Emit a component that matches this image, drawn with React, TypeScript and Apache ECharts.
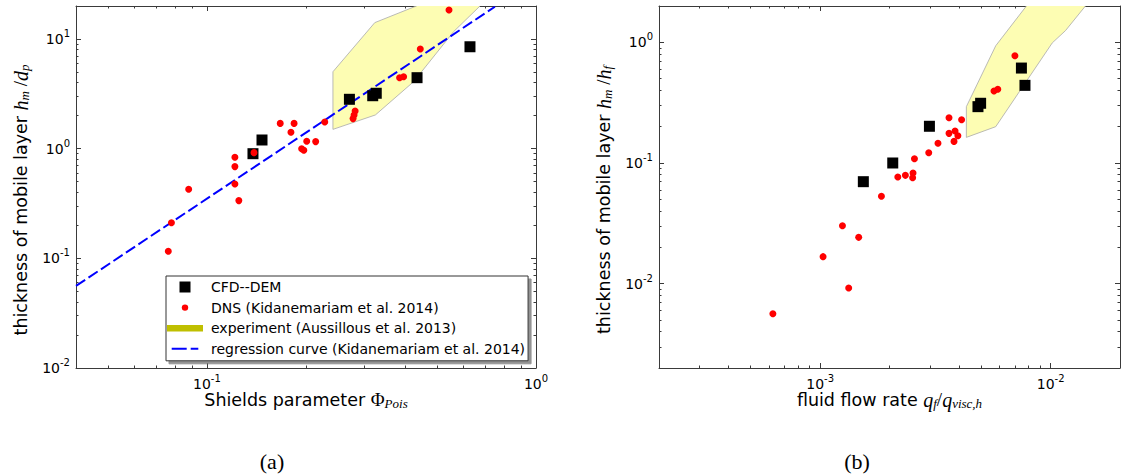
import React, { useEffect, useRef } from "react";
import * as echarts from "echarts";

// ---- Panel (a): mobile layer thickness vs. Shields parameter ----
const cfdShields = [0.138, 0.147, 0.271, 0.319, 0.327, 0.435, 0.63];
const cfdThicknessA = [0.9, 1.2, 2.82, 3.04, 3.2, 4.44, 8.5];

const dnsShields = [
  0.0763, 0.078, 0.088, 0.1216, 0.1216, 0.1216, 0.125, 0.139, 0.167, 0.18, 0.184,
  0.194, 0.197, 0.201, 0.214, 0.228, 0.278, 0.28, 0.282, 0.385, 0.396, 0.445, 0.544,
];
const dnsThicknessA = [
  0.116, 0.2115, 0.427, 0.835, 0.686, 0.477, 0.336, 0.92, 1.7, 1.41, 1.7,
  1.0, 0.967, 1.17, 1.16, 1.75, 1.88, 2.03, 2.2, 4.44, 4.53, 8.1, 18.4,
];

// outline of the experimental band (Aussillous et al. 2013)
const expShields = [0.2415, 0.2415, 0.3236, 0.486, 0.709, 0.5616, 0.4246, 0.325];
const expThicknessA = [1.5, 5.03, 14.1, 23, 23, 11.66, 4.08, 2.03];

// regression curve end points (straight on log-log axes)
const fitShields = [0.04, 0.75];
const fitThickness = [0.056, 19.7];

// ---- Panel (b): mobile layer thickness vs. fluid flow rate ----
const cfdFlow = [0.00154, 0.002066, 0.00298, 0.00484, 0.00497, 0.00747, 0.00774];
const cfdThicknessB = [0.07, 0.1, 0.2015, 0.293, 0.3125, 0.612, 0.44];

const dnsFlow = [
  0.000624, 0.00103, 0.00125, 0.00133, 0.00147, 0.001845, 0.002173, 0.002344, 0.00252,
  0.00253, 0.002566, 0.00296, 0.003246, 0.003624, 0.003624, 0.00381, 0.00385, 0.00396,
  0.00411, 0.00568, 0.0059, 0.007,
];
const dnsThicknessB = [
  0.00564, 0.01674, 0.0302, 0.00921, 0.0242, 0.053, 0.0766, 0.079, 0.0755,
  0.0826, 0.1086, 0.1217, 0.1456, 0.237, 0.176, 0.151, 0.184, 0.168,
  0.2285, 0.395, 0.408, 0.774,
];

const expFlow = [0.00431, 0.00431, 0.00578, 0.00845, 0.0153, 0.0116, 0.01017, 0.00578];
const expThicknessB = [0.163, 0.293, 0.937, 2.4, 2.4, 1.25, 0.99, 0.2];

// ---- axis ranges and labelled decades ----
const rangeShields = [0.04, 1];
const rangeThicknessA = [0.01, 20];
const rangeFlow = [0.0002, 0.02];
const rangeThicknessB = [0.002, 2];

const decadesShields = [0.1, 1];
const decadesThicknessA = [0.01, 0.1, 1, 10];
const decadesFlow = [0.001, 0.01];
const decadesThicknessB = [0.01, 0.1, 1];

const NAME_CFD = "CFD--DEM";
const NAME_DNS = "DNS (Kidanemariam et al. 2014)";
const NAME_EXP = "experiment (Aussillous et al. 2013)";
const NAME_FIT = "regression curve (Kidanemariam et al. 2014)";

const SANS = "DejaVu Sans";
const SERIF = "Liberation Serif";
const FRAME = "#3a3a3a";

const pairs = (xs: number[], ys: number[]) => xs.map((x, i) => [x, ys[i]]);

// minor ticks at 2..9 times each power of ten inside the range
function minorTicks(range: number[]): number[] {
  const out: number[] = [];
  const lo = Math.floor(Math.log10(range[0]));
  const hi = Math.ceil(Math.log10(range[1]));
  for (let e = lo; e < hi; e++) {
    for (let k = 2; k <= 9; k++) {
      const v = parseFloat((k * Math.pow(10, e)).toPrecision(6));
      if (v > range[0] * 1.0001 && v < range[1] * 0.9999) out.push(v);
    }
  }
  return out;
}

const tickRich = {
  b: { fontSize: 14, fontFamily: SANS, color: "#000" },
  s: { fontSize: 10, fontFamily: SANS, color: "#000", padding: [0, 0, 11, 0] },
};
const decadeLabel = (v: number) => `{b|10}{s|${Math.round(Math.log10(v))}}`;

const nameRich = {
  t: { fontSize: 17.5, fontFamily: SANS, color: "#000" },
  m: { fontSize: 20, fontFamily: SERIF, fontStyle: "italic", color: "#000" },
  g: { fontSize: 19, fontFamily: SERIF, color: "#000" },
  u: { fontSize: 19, fontFamily: SERIF, color: "#000" },
  s: { fontSize: 13, fontFamily: SERIF, fontStyle: "italic", color: "#000", padding: [8, 0, 0, 0] },
};

function buildAxes(
  dim: "x" | "y",
  gridIndex: number,
  range: number[],
  decades: number[],
  name: string,
  nameGap: number
) {
  const near = dim === "x" ? "bottom" : "left";
  const far = dim === "x" ? "top" : "right";
  const minors = minorTicks(range);
  const base = {
    type: "log",
    logBase: 10,
    gridIndex,
    min: range[0],
    max: range[1],
    splitLine: { show: false },
    minorTick: { show: false },
    minorSplitLine: { show: false },
  };
  const line = { show: true, onZero: false, lineStyle: { color: FRAME, width: 1 } };
  const majorTick = {
    show: true,
    inside: true,
    length: 5,
    customValues: decades,
    lineStyle: { color: FRAME, width: 1 },
  };
  const minorTick = {
    show: true,
    inside: true,
    length: 2.5,
    customValues: minors,
    lineStyle: { color: FRAME, width: 1 },
  };
  return [
    {
      ...base,
      position: near,
      axisLine: line,
      axisTick: majorTick,
      axisLabel: {
        show: true,
        customValues: decades,
        formatter: decadeLabel,
        rich: tickRich,
        margin: dim === "x" ? 5 : 6,
        hideOverlap: false,
        showMinLabel: true,
        showMaxLabel: true,
      },
      name,
      nameLocation: "middle",
      nameGap,
      nameRotate: dim === "y" ? 90 : 0,
      nameMoveOverlap: false,
      // the vertical titles sit a little below the middle of the frame
      nameTextStyle: { rich: nameRich, padding: dim === "y" ? [0, 26, 0, 0] : 0 },
    },
    { ...base, position: near, axisLine: { show: false, onZero: false }, axisTick: minorTick, axisLabel: { show: false } },
    { ...base, position: far, axisLine: line, axisTick: majorTick, axisLabel: { show: false } },
    { ...base, position: far, axisLine: { show: false, onZero: false }, axisTick: minorTick, axisLabel: { show: false } },
  ];
}

// filled band drawn as one polygon through all vertices of the series
const bandRenderer = (params: any, api: any) => {
  if (params.dataIndexInside !== 0) return null;
  const pts: number[][] = [];
  for (let i = 0; i < params.dataInsideLength; i++) {
    pts.push(api.coord([api.value(0, i), api.value(1, i)]));
  }
  return {
    type: "polygon",
    shape: { points: pts },
    style: { fill: "#fdfdb3", stroke: "#a9a9a9", lineWidth: 0.8 },
  };
};

// legend icons share one 39x14 frame (the leading moveTo's fix the frame)
const FRAME_PATH = "M0,0M39,14";
const ICON_SQUARE = `path://${FRAME_PATH}M12.5,1.5h11v11h-11z`;
const ICON_DOT = `path://${FRAME_PATH}M14.8,7a3.2,3.2 0 1,0 6.4,0a3.2,3.2 0 1,0 -6.4,0z`;
const ICON_BAR = `path://${FRAME_PATH}M0,3.8h36v6.4h-36z`;
const ICON_DASH = `path://${FRAME_PATH}M4.7,6h15v2h-15zM23.7,6h7.6v2h-7.6z`;

const solid = (color: string) => ({ color, opacity: 1, borderWidth: 0 });

export default function App() {
  const ref = useRef<HTMLDivElement>(null);

  useEffect(() => {
    if (!ref.current) return;
    const chart = echarts.init(ref.current, undefined, { renderer: "svg" });

    const option: any = {
      animation: false,
      backgroundColor: "#ffffff",
      textStyle: { fontFamily: SANS, color: "#000" },
      grid: [
        { left: 76, top: 6, width: 460, height: 362, outerBoundsMode: "none", containLabel: false },
        { left: 659, top: 6, width: 461, height: 362, outerBoundsMode: "none", containLabel: false },
      ],
      xAxis: [
        ...buildAxes("x", 0, rangeShields, decadesShields, "{t|Shields parameter }{g|Φ}{s|Pois}", 21),
        ...buildAxes("x", 1, rangeFlow, decadesFlow, "{t|fluid flow rate }{m|q}{s|f}{u|/}{m|q}{s|visc,h}", 21),
      ],
      yAxis: [
        ...buildAxes("y", 0, rangeThicknessA, decadesThicknessA, "{t|thickness of mobile layer }{m|h}{s|m}{u| /}{m|d}{s|p}", 45),
        ...buildAxes("y", 1, rangeThicknessB, decadesThicknessB, "{t|thickness of mobile layer }{m|h}{s|m}{u| /}{m|h}{s|f}", 45),
      ],
      legend: {
        orient: "vertical",
        left: 166,
        top: 276,
        itemWidth: 39,
        itemHeight: 14,
        itemGap: 6.6,
        padding: [4, 3, 5, 1],
        backgroundColor: "#ffffff",
        borderColor: "#333333",
        borderWidth: 1,
        borderRadius: 0,
        shadowColor: "rgba(120,120,120,0.8)",
        shadowBlur: 0,
        shadowOffsetX: 3,
        shadowOffsetY: 3,
        selectedMode: false,
        textStyle: { fontSize: 14, lineHeight: 14, fontFamily: SANS, color: "#000" },
        data: [
          { name: NAME_CFD, icon: ICON_SQUARE, itemStyle: solid("#000000") },
          { name: NAME_DNS, icon: ICON_DOT, itemStyle: solid("#ff0000") },
          { name: NAME_EXP, icon: ICON_BAR, itemStyle: solid("#bfbf00") },
          { name: NAME_FIT, icon: ICON_DASH, itemStyle: solid("#0000ff") },
        ],
      },
      graphic: [
        {
          type: "text",
          x: 272,
          y: 461,
          style: { text: "(a)", fontSize: 22, fontFamily: SERIF, fill: "#000", textAlign: "center", textVerticalAlign: "middle" },
        },
        {
          type: "text",
          x: 857,
          y: 461,
          style: { text: "(b)", fontSize: 22, fontFamily: SERIF, fill: "#000", textAlign: "center", textVerticalAlign: "middle" },
        },
      ],
      series: [
        {
          name: NAME_EXP,
          type: "custom",
          xAxisIndex: 0,
          yAxisIndex: 0,
          clip: true,
          itemStyle: { color: "#bfbf00" },
          encode: { x: 0, y: 1 },
          data: pairs(expShields, expThicknessA),
          renderItem: bandRenderer,
          z: 1,
        },
        {
          name: NAME_FIT,
          type: "line",
          xAxisIndex: 0,
          yAxisIndex: 0,
          symbol: "none",
          clip: true,
          color: "#0000ff",
          lineStyle: { color: "#0000ff", width: 2, type: [11, 4], opacity: 1 },
          data: pairs(fitShields, fitThickness),
          z: 2,
        },
        {
          name: NAME_CFD,
          type: "scatter",
          xAxisIndex: 0,
          yAxisIndex: 0,
          symbol: "rect",
          symbolSize: 11,
          itemStyle: solid("#000000"),
          data: pairs(cfdShields, cfdThicknessA),
          z: 3,
        },
        {
          name: NAME_DNS,
          type: "scatter",
          xAxisIndex: 0,
          yAxisIndex: 0,
          symbol: "circle",
          symbolSize: 7,
          itemStyle: solid("#ff0000"),
          data: pairs(dnsShields, dnsThicknessA),
          z: 4,
        },
        {
          name: NAME_EXP,
          type: "custom",
          xAxisIndex: 4,
          yAxisIndex: 4,
          clip: true,
          itemStyle: { color: "#bfbf00" },
          encode: { x: 0, y: 1 },
          data: pairs(expFlow, expThicknessB),
          renderItem: bandRenderer,
          z: 1,
        },
        {
          name: NAME_CFD,
          type: "scatter",
          xAxisIndex: 4,
          yAxisIndex: 4,
          symbol: "rect",
          symbolSize: 11,
          itemStyle: solid("#000000"),
          data: pairs(cfdFlow, cfdThicknessB),
          z: 3,
        },
        {
          name: NAME_DNS,
          type: "scatter",
          xAxisIndex: 4,
          yAxisIndex: 4,
          symbol: "circle",
          symbolSize: 7,
          itemStyle: solid("#ff0000"),
          data: pairs(dnsFlow, dnsThicknessB),
          z: 4,
        },
      ],
    };

    chart.setOption(option);
    return () => chart.dispose();
  }, []);

  return (
    <div
      ref={ref}
      style={{ position: "fixed", left: 0, top: 0, width: 1122, height: 476, background: "#fff" }}
    />
  );
}
